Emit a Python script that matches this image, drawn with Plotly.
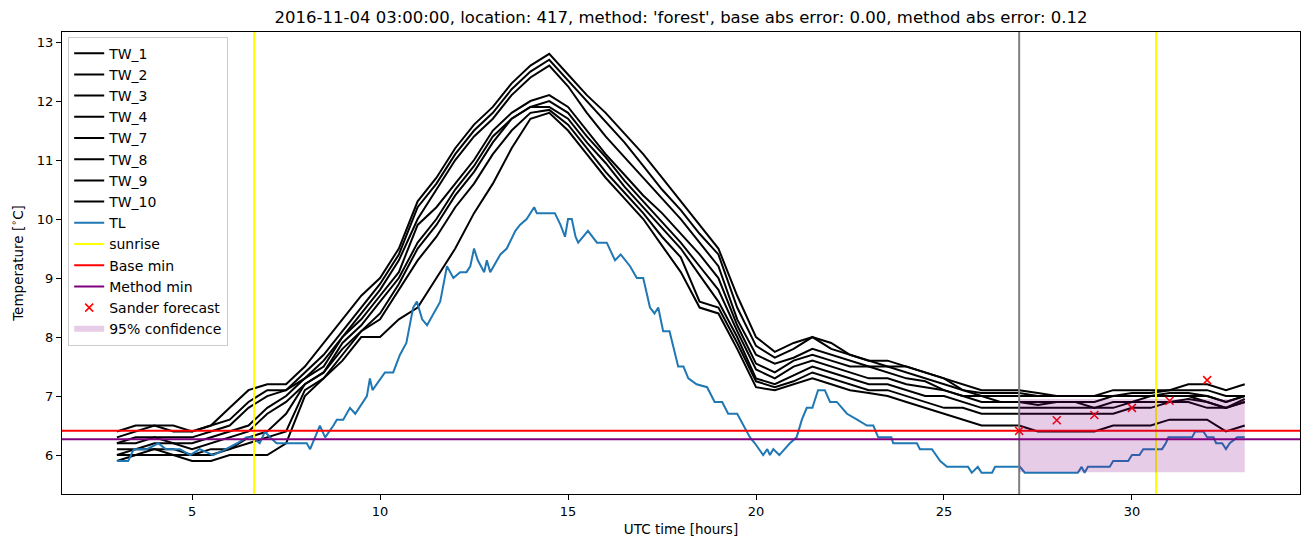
import plotly.graph_objects as go

# ---- data ----
title = ("2016-11-04 03:00:00, location: 417, method: 'forest', "
         "base abs error: 0.00, method abs error: 0.12")

tw_hours = [3.0, 3.5, 4.0, 4.5, 5.0, 5.5, 6.0, 6.5, 7.0, 7.5, 8.0, 8.5, 9.0, 9.5,
            10.0, 10.5, 11.0, 11.5, 12.0, 12.5, 13.0, 13.5, 14.0, 14.5, 15.0, 15.5,
            16.0, 16.5, 17.0, 17.5, 18.0, 18.5, 19.0, 19.5, 20.0, 20.5, 21.0, 21.5,
            22.0, 22.5, 23.0, 23.5, 24.0, 24.5, 25.0, 25.5, 26.0, 26.5, 27.0, 27.5,
            28.0, 28.5, 29.0, 29.5, 30.0, 30.5, 31.0, 31.5, 32.0, 32.5, 33.0]

tw_1 = [6.4, 6.5, 6.5, 6.5, 6.4, 6.5, 6.8, 7.1, 7.2, 7.2, 7.5, 7.9, 8.3, 8.7,
        9.0, 9.5, 10.3, 10.7, 11.2, 11.6, 11.9, 12.3, 12.6, 12.8, 12.45, 12.1,
        11.8, 11.45, 11.1, 10.7, 10.3, 9.9, 9.5, 8.7, 8.0, 7.75, 7.9, 8.0,
        7.9, 7.7, 7.6, 7.6, 7.5, 7.4, 7.3, 7.2, 7.1, 7.1, 7.1, 7.05,
        7.0, 7.0, 7.0, 7.1, 7.1, 7.1, 7.1, 7.2, 7.2, 7.1, 7.2]
tw_2 = [6.3, 6.4, 6.5, 6.4, 6.4, 6.5, 6.6, 6.9, 7.1, 7.1, 7.4, 7.7, 8.1, 8.5,
        8.9, 9.4, 10.2, 10.6, 11.1, 11.5, 11.8, 12.2, 12.5, 12.7, 12.35, 12.0,
        11.65, 11.3, 10.9, 10.5, 10.15, 9.75, 9.4, 8.5, 7.85, 7.65, 7.8, 8.0,
        7.8, 7.7, 7.6, 7.5, 7.5, 7.4, 7.3, 7.1, 7.05, 7.05, 7.05, 7.0,
        7.0, 7.0, 7.0, 7.0, 7.05, 7.05, 7.1, 7.1, 7.1, 7.0, 7.0]
tw_3 = [6.2, 6.3, 6.3, 6.3, 6.3, 6.4, 6.5, 6.8, 7.0, 7.1, 7.3, 7.6, 8.0, 8.4,
        8.8, 9.3, 10.0, 10.5, 11.0, 11.4, 11.7, 12.1, 12.4, 12.6, 12.25, 11.8,
        11.4, 11.05, 10.7, 10.35, 10.0, 9.6, 9.2, 8.3, 7.7, 7.55, 7.65, 7.8,
        7.7, 7.6, 7.5, 7.5, 7.4, 7.3, 7.2, 7.1, 7.0, 7.0, 7.0, 7.0,
        7.0, 7.0, 7.0, 7.0, 7.0, 7.0, 7.05, 7.05, 7.0, 6.9, 7.0]
tw_4 = [6.2, 6.2, 6.3, 6.2, 6.2, 6.3, 6.4, 6.5, 6.8, 7.0, 7.3, 7.5, 8.0, 8.3,
        8.7, 9.1, 9.9, 10.2, 10.6, 11.0, 11.5, 11.8, 12.0, 12.1, 11.9, 11.5,
        11.1, 10.75, 10.4, 10.1, 9.75, 9.4, 9.0, 8.2, 7.55, 7.4, 7.6, 7.7,
        7.6, 7.5, 7.5, 7.4, 7.3, 7.25, 7.1, 7.0, 7.0, 6.9, 6.9, 6.9,
        6.9, 6.9, 6.9, 7.0, 7.0, 7.0, 7.0, 7.0, 7.0, 6.9, 7.0]
tw_7 = [6.1, 6.1, 6.2, 6.2, 6.1, 6.2, 6.3, 6.4, 6.7, 6.9, 7.2, 7.4, 7.9, 8.2,
        8.6, 9.0, 9.6, 10.0, 10.5, 10.9, 11.4, 11.7, 11.9, 12.0, 11.8, 11.4,
        11.05, 10.65, 10.3, 9.95, 9.6, 9.2, 8.8, 8.1, 7.45, 7.3, 7.5, 7.6,
        7.5, 7.4, 7.3, 7.3, 7.2, 7.15, 7.1, 7.0, 6.9, 6.9, 6.9, 6.85,
        6.9, 6.9, 6.8, 6.9, 6.9, 7.0, 7.0, 7.0, 6.9, 6.8, 6.95]
tw_8 = [6.0, 6.1, 6.1, 6.1, 6.0, 6.1, 6.1, 6.3, 6.4, 6.7, 7.2, 7.4, 7.8, 8.1,
        8.4, 8.9, 9.5, 9.9, 10.4, 10.8, 11.3, 11.7, 11.9, 11.9, 11.7, 11.3,
        10.95, 10.55, 10.2, 9.85, 9.5, 9.05, 8.6, 8.0, 7.3, 7.2, 7.35, 7.5,
        7.4, 7.3, 7.2, 7.2, 7.1, 7.0, 7.0, 6.9, 6.8, 6.8, 6.8, 6.8,
        6.8, 6.8, 6.8, 6.8, 6.9, 6.9, 6.9, 6.95, 6.9, 6.8, 6.9]
tw_9 = [6.0, 6.0, 6.1, 6.0, 6.0, 6.0, 6.1, 6.2, 6.3, 6.4, 7.1, 7.3, 7.7, 8.1,
        8.3, 8.8, 9.3, 9.7, 10.2, 10.6, 11.1, 11.5, 11.8, 11.85, 11.6, 11.2,
        10.8, 10.45, 10.1, 9.7, 9.35, 8.6, 8.5, 7.9, 7.25, 7.15, 7.25, 7.4,
        7.3, 7.2, 7.1, 7.1, 7.0, 6.9, 6.8, 6.8, 6.7, 6.7, 6.7, 6.7,
        6.7, 6.7, 6.7, 6.7, 6.8, 6.8, 6.9, 6.9, 6.8, 6.8, 6.9]
tw_10 = [5.9, 6.0, 6.0, 6.0, 5.9, 5.9, 6.0, 6.0, 6.0, 6.2, 7.0, 7.3, 7.6, 8.0,
         8.0, 8.3, 8.5, 9.0, 9.5, 10.1, 10.6, 11.2, 11.7, 11.8, 11.5, 11.1,
         10.7, 10.35, 10.0, 9.55, 9.1, 8.5, 8.4, 7.8, 7.15, 7.1, 7.2, 7.3,
         7.2, 7.1, 7.05, 7.0, 6.9, 6.8, 6.7, 6.6, 6.5, 6.5, 6.5, 6.4,
         6.4, 6.4, 6.4, 6.5, 6.5, 6.5, 6.6, 6.6, 6.6, 6.4, 6.5]

tw_names = ['TW_1', 'TW_2', 'TW_3', 'TW_4', 'TW_7', 'TW_8', 'TW_9', 'TW_10']
tw_series = [tw_1, tw_2, tw_3, tw_4, tw_7, tw_8, tw_9, tw_10]

tl_hours = [3.0, 3.3, 3.45, 3.8, 4.1, 4.3, 4.68, 4.95, 5.2, 5.56, 5.9, 6.2, 6.45,
            6.6, 6.8, 6.94, 7.07, 7.25, 8.05, 8.14, 8.4, 8.54, 8.76, 8.85, 9.02,
            9.2, 9.34, 9.65, 9.73, 9.8, 10.13, 10.35, 10.53, 10.7, 10.88, 10.98,
            11.12, 11.25, 11.6, 11.78, 11.95, 12.13, 12.3, 12.4, 12.5, 12.6, 12.77,
            12.84, 12.93, 13.2, 13.37, 13.6, 13.72, 13.9, 14.1, 14.17, 14.65, 14.8,
            14.92, 15.0, 15.1, 15.2, 15.27, 15.4, 15.53, 15.77, 16.03, 16.25, 16.4,
            16.65, 16.83, 17.0, 17.18, 17.3, 17.4, 17.53, 17.7, 17.93, 18.07, 18.2,
            18.42, 18.7, 18.9, 19.1, 19.26, 19.5, 19.84, 19.97, 20.19, 20.3, 20.37,
            20.46, 20.62, 20.9, 21.08, 21.22, 21.35, 21.5, 21.65, 21.83, 21.97,
            22.15, 22.29, 22.42, 22.69, 22.95, 23.12, 23.25, 23.6, 23.65, 24.28,
            24.36, 24.68, 24.9, 25.08, 25.64, 25.74, 25.9, 26.0, 26.28, 26.36,
            27.02, 27.15, 28.56, 28.66, 28.74, 28.83, 29.41, 29.5, 29.9, 30.0,
            30.2, 30.3, 30.8, 30.9, 30.97, 31.6, 31.68, 31.9, 32.0, 32.17, 32.24,
            32.4, 32.5, 32.6, 32.7, 32.8, 33.0]
tl_temp = [5.9, 5.9, 6.1, 6.1, 6.2, 6.1, 6.1, 6.0, 6.1, 6.0, 6.1, 6.2, 6.3,
           6.3, 6.2, 6.4, 6.3, 6.2, 6.2, 6.1, 6.5, 6.3, 6.5, 6.6, 6.6,
           6.8, 6.7, 7.0, 7.3, 7.1, 7.4, 7.4, 7.7, 7.9, 8.5, 8.6,
           8.3, 8.2, 8.6, 9.2, 9.0, 9.1, 9.1, 9.2, 9.5, 9.3, 9.1,
           9.3, 9.1, 9.4, 9.5, 9.8, 9.9, 10.0, 10.2, 10.1, 10.1, 9.9,
           9.7, 10.0, 10.0, 9.7, 9.6, 9.7, 9.8, 9.6, 9.6, 9.3, 9.4,
           9.2, 9.0, 9.0, 8.5, 8.4, 8.5, 8.1, 8.1, 7.5, 7.5, 7.3,
           7.2, 7.15, 6.9, 6.9, 6.7, 6.7, 6.3, 6.2, 6.0, 6.1, 6.0,
           6.1, 6.0, 6.2, 6.3, 6.6, 6.8, 6.8, 7.1, 7.1, 6.9,
           6.9, 6.8, 6.7, 6.6, 6.5, 6.5, 6.3, 6.3, 6.2, 6.2,
           6.1, 6.1, 5.9, 5.8, 5.8, 5.7, 5.8, 5.7, 5.7, 5.8,
           5.8, 5.7, 5.7, 5.8, 5.7, 5.8, 5.8, 5.9, 5.9, 6.0,
           6.0, 6.1, 6.1, 6.2, 6.3, 6.3, 6.4, 6.4, 6.3, 6.3, 6.2,
           6.2, 6.1, 6.2, 6.25, 6.3, 6.3]

sunrise_hours = [6.65, 30.64]
forecast_start = 27.0
base_min = 6.41
method_min = 6.27

sander_hours = [27, 28, 29, 30, 31, 32]
sander_temp = [6.41, 6.59, 6.68, 6.80, 6.92, 7.27]

conf_hours = [27.0, 33.0]
conf_low = 5.71
conf_high = 6.95

x_range = [1.54, 34.47]
y_range = [5.34, 13.17]

# ---- figure ----
fig = go.Figure()

for name, vals in zip(tw_names, tw_series):
    fig.add_trace(go.Scatter(x=tw_hours, y=vals, mode='lines', name=name,
                             line=dict(color='black', width=2)))

fig.add_trace(go.Scatter(x=tl_hours, y=tl_temp, mode='lines', name='TL',
                         line=dict(color='#1f77b4', width=2)))

sx, sy = [], []
for h in sunrise_hours:
    sx += [h, h, None]
    sy += [y_range[0], y_range[1], None]
fig.add_trace(go.Scatter(x=sx, y=sy, mode='lines', name='sunrise',
                         line=dict(color='yellow', width=2)))

fig.add_trace(go.Scatter(x=[forecast_start, forecast_start], y=y_range, mode='lines',
                         showlegend=False, hoverinfo='skip',
                         line=dict(color='grey', width=2)))

fig.add_trace(go.Scatter(x=x_range, y=[base_min, base_min], mode='lines', name='Base min',
                         line=dict(color='red', width=2)))
fig.add_trace(go.Scatter(x=x_range, y=[method_min, method_min], mode='lines', name='Method min',
                         line=dict(color='purple', width=2)))

fig.add_trace(go.Scatter(x=sander_hours, y=sander_temp, mode='markers', name='Sander forecast',
                         marker=dict(symbol='x-thin', size=8, color='red',
                                     line=dict(color='red', width=1.5))))

fig.add_trace(go.Scatter(x=[conf_hours[0], conf_hours[1], conf_hours[1], conf_hours[0]],
                         y=[conf_low, conf_low, conf_high, conf_high],
                         fill='toself', mode='none', name='95% confidence',
                         fillcolor='rgba(128,0,128,0.2)'))

axis_common = dict(showline=True, linecolor='black', linewidth=1, mirror=True,
                   ticks='outside', ticklen=5, tickcolor='black', showgrid=False,
                   zeroline=False, automargin=False,
                   tickfont=dict(size=13, color='black'))

# the page body adds 8px on the left and top, so the figure is a bit smaller
fig.update_layout(
    width=1303, height=539,
    margin=dict(l=54, r=11, t=24, b=53),
    paper_bgcolor='white', plot_bgcolor='white',
    font=dict(family='DejaVu Sans', size=13, color='black'),
    title=dict(text=title, x=0.5165, xanchor='center', y=0.983, yanchor='middle',
               font=dict(size=16.5)),
    xaxis=dict(range=x_range, tickvals=[5, 10, 15, 20, 25, 30],
               title=dict(text='UTC time [hours]', standoff=6, font=dict(size=13.5)),
               **axis_common),
    yaxis=dict(range=y_range, tickvals=[6, 7, 8, 9, 10, 11, 12, 13],
               title=dict(text='Temperature [<sup>∘</sup>C]', standoff=10, font=dict(size=13.5)),
               **axis_common),
    legend=dict(x=0.005, y=0.99, xanchor='left', yanchor='top',
                bgcolor='rgba(255,255,255,0.8)', bordercolor='#cccccc', borderwidth=1,
                font=dict(size=14), tracegroupgap=0),
    showlegend=True,
)

fig.write_html("out.html")
